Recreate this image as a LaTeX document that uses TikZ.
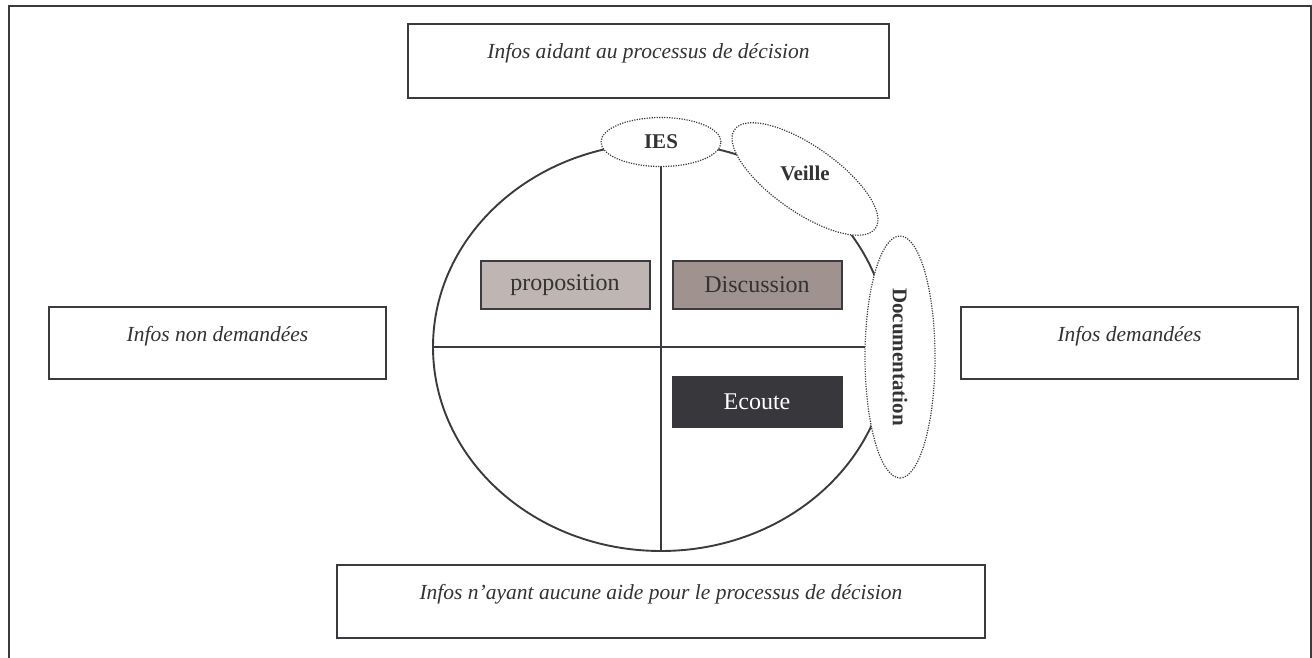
\documentclass[tikz,border=0pt]{standalone}
\usepackage{fontspec}
\setmainfont{Liberation Serif}
\usepackage{tikz}
\usetikzlibrary{shapes.geometric}
\definecolor{edge}{HTML}{3B3A3F}
\definecolor{ink}{HTML}{333333}
\definecolor{propfill}{HTML}{BFB5B2}
\definecolor{discfill}{HTML}{A0928E}
\definecolor{ecoutefill}{HTML}{38373B}

\begin{document}
\begin{tikzpicture}[x=1pt,y=-1pt,
  frame line/.style={edge,line width=2.2pt},
  info box/.style={draw=edge,line width=2pt,fill=white,text=ink,inner sep=0pt,
    font=\fontsize{21.5}{25}\selectfont\itshape,text height=15pt,text depth=19pt},
  role box/.style={draw=edge,line width=2pt,text=ink,inner sep=0pt,
    minimum width=169,minimum height=48,font=\fontsize{24}{28}\selectfont},
  tag/.style={ellipse,draw=edge,line width=1.2pt,dash pattern=on 1.2pt off 1.3pt,
    fill=white,inner sep=0pt,text=ink,font=\fontsize{21}{25}\selectfont\bfseries}]
\useasboundingbox (0,0) rectangle (1312,658);
\draw[frame line] (9,658) -- (9,6) -- (1311,6) -- (1311,658); % outer frame

% boxes round the circle
\node[info box,minimum width=481,minimum height=74] (aide) at (648.5,61) {Infos aidant au processus de décision};
\node[info box,minimum width=648,minimum height=73] (aucune) at (661,601.5) {Infos n’ayant aucune aide pour le processus de décision};
\node[info box,minimum width=337,minimum height=72] (nondem) at (217.5,343) {Infos non demandées};
\node[info box,minimum width=337,minimum height=72] (dem) at (1129.5,343) {Infos demandées};

% the circle and its quarters
\node[ellipse,draw=edge,line width=1.9pt,inner sep=0pt,minimum width=456,minimum height=408] (cercle) at (661,347) {};
\draw[edge,line width=1.9pt] (cercle.north) -- (cercle.south);
\draw[edge,line width=1.9pt] (cercle.west) -- (cercle.east);

\node[role box,fill=propfill] (prop) at (565,285) {proposition};
\node[role box,fill=discfill] (disc) at (757,285) {Discussion};
\node[role box,fill=ecoutefill,draw=ecoutefill,text=white,minimum height=50] (ecoute) at (757,402) {Ecoute};

% tags on the rim
\node[tag,minimum width=120,minimum height=49] (ies) at (661,142) {IES};
\node[tag,rotate=-35,minimum width=172,minimum height=66] (veille) at (805,179) {};
\node[text=ink,font=\fontsize{21}{25}\selectfont\bfseries] (veilletxt) at ([yshift=6]veille.center) {Veille};
\node[tag,rotate=-90,minimum width=242,minimum height=70] (doc) at (900,357) {Documentation};
\end{tikzpicture}
\end{document}
